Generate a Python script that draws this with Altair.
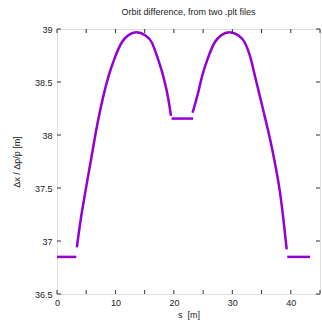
import altair as alt
import pandas as pd

# Segments
segA_s = [0.0, 3.3]
segA_y = [36.85, 36.85]

segB_s = [3.4, 4.05, 4.9, 5.8, 7.0, 7.9, 8.8, 9.9, 11.1, 12.2, 13.6, 15.1, 16.2, 17.2, 18.2, 18.8, 19.2, 19.5]
segB_y = [36.94, 37.20, 37.48, 37.76, 38.13, 38.36, 38.55, 38.73, 38.875, 38.94, 38.97, 38.94, 38.875, 38.73, 38.55, 38.41, 38.29, 38.18]

segC_s = [19.6, 23.3]
segC_y = [38.155, 38.155]

segD_s = [23.2, 24.2, 24.8, 25.85, 27.0, 28.1, 29.5, 31.0, 32.1, 33.1, 33.9, 34.6, 35.7, 36.5, 37.2, 38.1, 38.75, 39.3]
segD_y = [38.21, 38.41, 38.55, 38.73, 38.875, 38.94, 38.97, 38.94, 38.875, 38.73, 38.55, 38.39, 38.14, 37.95, 37.76, 37.48, 37.20, 36.92]

segE_s = [39.4, 43.3]
segE_y = [36.85, 36.85]

x_ticks = [0, 5, 10, 15, 20, 25, 30, 35, 40, 45]
y_ticks = [36.5, 37.0, 37.5, 38.0, 38.5, 39.0]

rows = []
for name, ss, yy in [("A", segA_s, segA_y), ("B", segB_s, segB_y), ("C", segC_s, segC_y),
                     ("D", segD_s, segD_y), ("E", segE_s, segE_y)]:
    for i, (s, y) in enumerate(zip(ss, yy)):
        rows.append({"seg": name, "i": i, "s": s, "y": y})
df = pd.DataFrame(rows)

W, H = 263, 265
TL = 4
FONT = "Liberation Sans"

xscale = alt.Scale(domain=[0, 45], nice=False, zero=False)
yscale = alt.Scale(domain=[36.5, 39], nice=False, zero=False)

line = alt.Chart(df).mark_line(color="#9400d3", strokeWidth=2.5, clip=True, interpolate="monotone").encode(
    x=alt.X("s:Q", scale=xscale,
            axis=alt.Axis(values=x_ticks, format="~g", title="s\u00a0 [m]", domain=False, ticks=False,
                          grid=False, labelPadding=4, titlePadding=3, labelFontSize=9, titleFontSize=9,
                          labelFont=FONT, titleFont=FONT, titleFontWeight="normal",
                          labelColor="#222", titleColor="#222", labelFlush=False)),
    y=alt.Y("y:Q", scale=yscale,
            axis=alt.Axis(values=y_ticks, format="~g", title="\u0394x / \u0394p/p [m]", domain=False, ticks=False,
                          grid=False, labelPadding=5, titlePadding=13, labelFontSize=9, titleFontSize=9,
                          labelFont=FONT, titleFont=FONT, titleFontWeight="normal",
                          labelColor="#222", titleColor="#222", labelFlush=False)),
    detail="seg:N",
    order="i:Q",
)

xt = pd.DataFrame({"v": x_ticks})
yt = pd.DataFrame({"v": y_ticks})

xb = alt.Chart(xt).mark_rule(color="#333", strokeWidth=1).encode(
    x=alt.X("v:Q", scale=xscale), y=alt.value(H), y2=alt.value(H - TL))
xtop = alt.Chart(xt).mark_rule(color="#333", strokeWidth=1).encode(
    x=alt.X("v:Q", scale=xscale), y=alt.value(0), y2=alt.value(TL))
yl = alt.Chart(yt).mark_rule(color="#333", strokeWidth=1).encode(
    y=alt.Y("v:Q", scale=yscale), x=alt.value(0), x2=alt.value(TL))
yr = alt.Chart(yt).mark_rule(color="#333", strokeWidth=1).encode(
    y=alt.Y("v:Q", scale=yscale), x=alt.value(W - TL), x2=alt.value(W))

chart = alt.layer(line, xb, xtop, yl, yr).properties(
    width=W, height=H,
    title=alt.TitleParams("Orbit difference, from two .plt files", fontSize=9, font=FONT,
                          fontWeight="normal", color="#222", anchor="middle", offset=8),
    autosize=alt.AutoSizeParams(type="none"),
    padding={"left": 57, "top": 29, "right": 2, "bottom": 28},
).configure_view(stroke="black", strokeWidth=1).configure(background="white")

chart.save("out.html", embed_options={"renderer": "svg", "actions": False})
